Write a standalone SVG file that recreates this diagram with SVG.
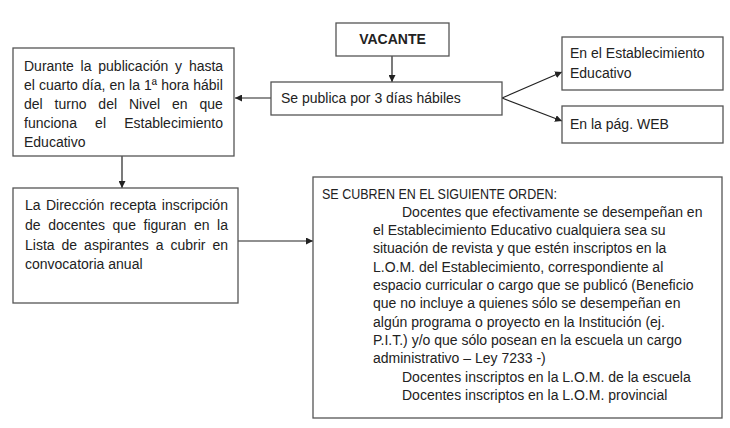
<svg xmlns="http://www.w3.org/2000/svg" width="730" height="428" viewBox="0 0 730 428">
<defs>
<style>
.box{fill:#fff;stroke:#555;stroke-width:1.3}
.t{font-family:"Liberation Sans",Arial,sans-serif;font-size:14px;fill:#222}
.b{font-weight:bold}
.c{stroke:#222;stroke-width:1.2;fill:none}
</style>
<marker id="ah" viewBox="0 0 10 10" refX="10" refY="5" markerWidth="7" markerHeight="7" markerUnits="userSpaceOnUse" orient="auto">
<path d="M0,0 L10,5 L0,10 z" fill="#222"/>
</marker>
</defs>
<rect width="730" height="428" fill="#fff"/>
<g id="connectors">
<line class="c" x1="392" y1="55" x2="392" y2="82" marker-end="url(#ah)"/>
<line class="c" x1="271" y1="98" x2="235" y2="98" marker-end="url(#ah)"/>
<line class="c" x1="502" y1="98" x2="562" y2="72" marker-end="url(#ah)"/>
<line class="c" x1="502" y1="98" x2="562" y2="121" marker-end="url(#ah)"/>
<line class="c" x1="122" y1="156" x2="122" y2="188" marker-end="url(#ah)"/>
<line class="c" x1="238" y1="241" x2="313" y2="241" marker-end="url(#ah)"/>
</g>
<g id="vacante">
<rect class="box" x="336" y="23" width="113" height="33"/>
<text class="t b" x="392.5" y="44" text-anchor="middle">VACANTE</text>
</g>
<g id="publica">
<rect class="box" x="271" y="82" width="231" height="33"/>
<text class="t" x="281" y="103">Se publica por 3 días hábiles</text>
</g>
<g id="establecimiento">
<rect class="box" x="562" y="37" width="161" height="53"/>
<text class="t" x="570" y="58">En el Establecimiento</text>
<text class="t" x="570" y="78">Educativo</text>
</g>
<g id="web">
<rect class="box" x="562" y="106" width="161" height="37"/>
<text class="t" x="570" y="129">En la pág. WEB</text>
</g>
<g id="durante">
<rect class="box" x="13" y="48" width="221" height="108"/>
<text class="t" x="24" y="71" style="word-spacing:2.9px">Durante la publicación y hasta</text>
<text class="t" x="24" y="90" style="word-spacing:0.2px">el cuarto día, en la 1ª hora hábil</text>
<text class="t" x="24" y="109" style="word-spacing:8px">del turno del Nivel en que</text>
<text class="t" x="24" y="128" style="word-spacing:14.3px">funciona el Establecimiento</text>
<text class="t" x="24" y="147">Educativo</text>
</g>
<g id="direccion">
<rect class="box" x="13" y="188" width="225" height="115"/>
<text class="t" x="25" y="209.5" style="word-spacing:1.5px">La Dirección recepta inscripción</text>
<text class="t" x="25" y="229.5" style="word-spacing:3.7px">de docentes que figuran en la</text>
<text class="t" x="25" y="249.5" style="word-spacing:3.1px">Lista de aspirantes a cubrir en</text>
<text class="t" x="25" y="269">convocatoria anual</text>
</g>
<g id="orden">
<rect class="box" x="313" y="177" width="409" height="241"/>
<text class="t" x="322" y="198.5" textLength="235" lengthAdjust="spacingAndGlyphs">SE CUBREN EN EL SIGUIENTE ORDEN:</text>
<text class="t" x="402" y="216.8">Docentes que efectivamente se desempeñan en</text>
<text class="t" x="373" y="235.1">el Establecimiento Educativo cualquiera sea su</text>
<text class="t" x="373" y="253.4">situación de revista y que estén inscriptos en la</text>
<text class="t" x="373" y="271.7">L.O.M. del Establecimiento, correspondiente al</text>
<text class="t" x="373" y="290">espacio curricular o cargo que se publicó (Beneficio</text>
<text class="t" x="373" y="308.3">que no incluye a quienes sólo se desempeñan en</text>
<text class="t" x="373" y="326.6">algún programa o proyecto en la Institución (ej.</text>
<text class="t" x="373" y="344.9">P.I.T.) y/o que sólo posean en la escuela un cargo</text>
<text class="t" x="373" y="363.2">administrativo – Ley 7233 -)</text>
<text class="t" x="402" y="381.5">Docentes inscriptos en la L.O.M. de la escuela</text>
<text class="t" x="402" y="399.8">Docentes inscriptos en la L.O.M. provincial</text>
</g>
</svg>
